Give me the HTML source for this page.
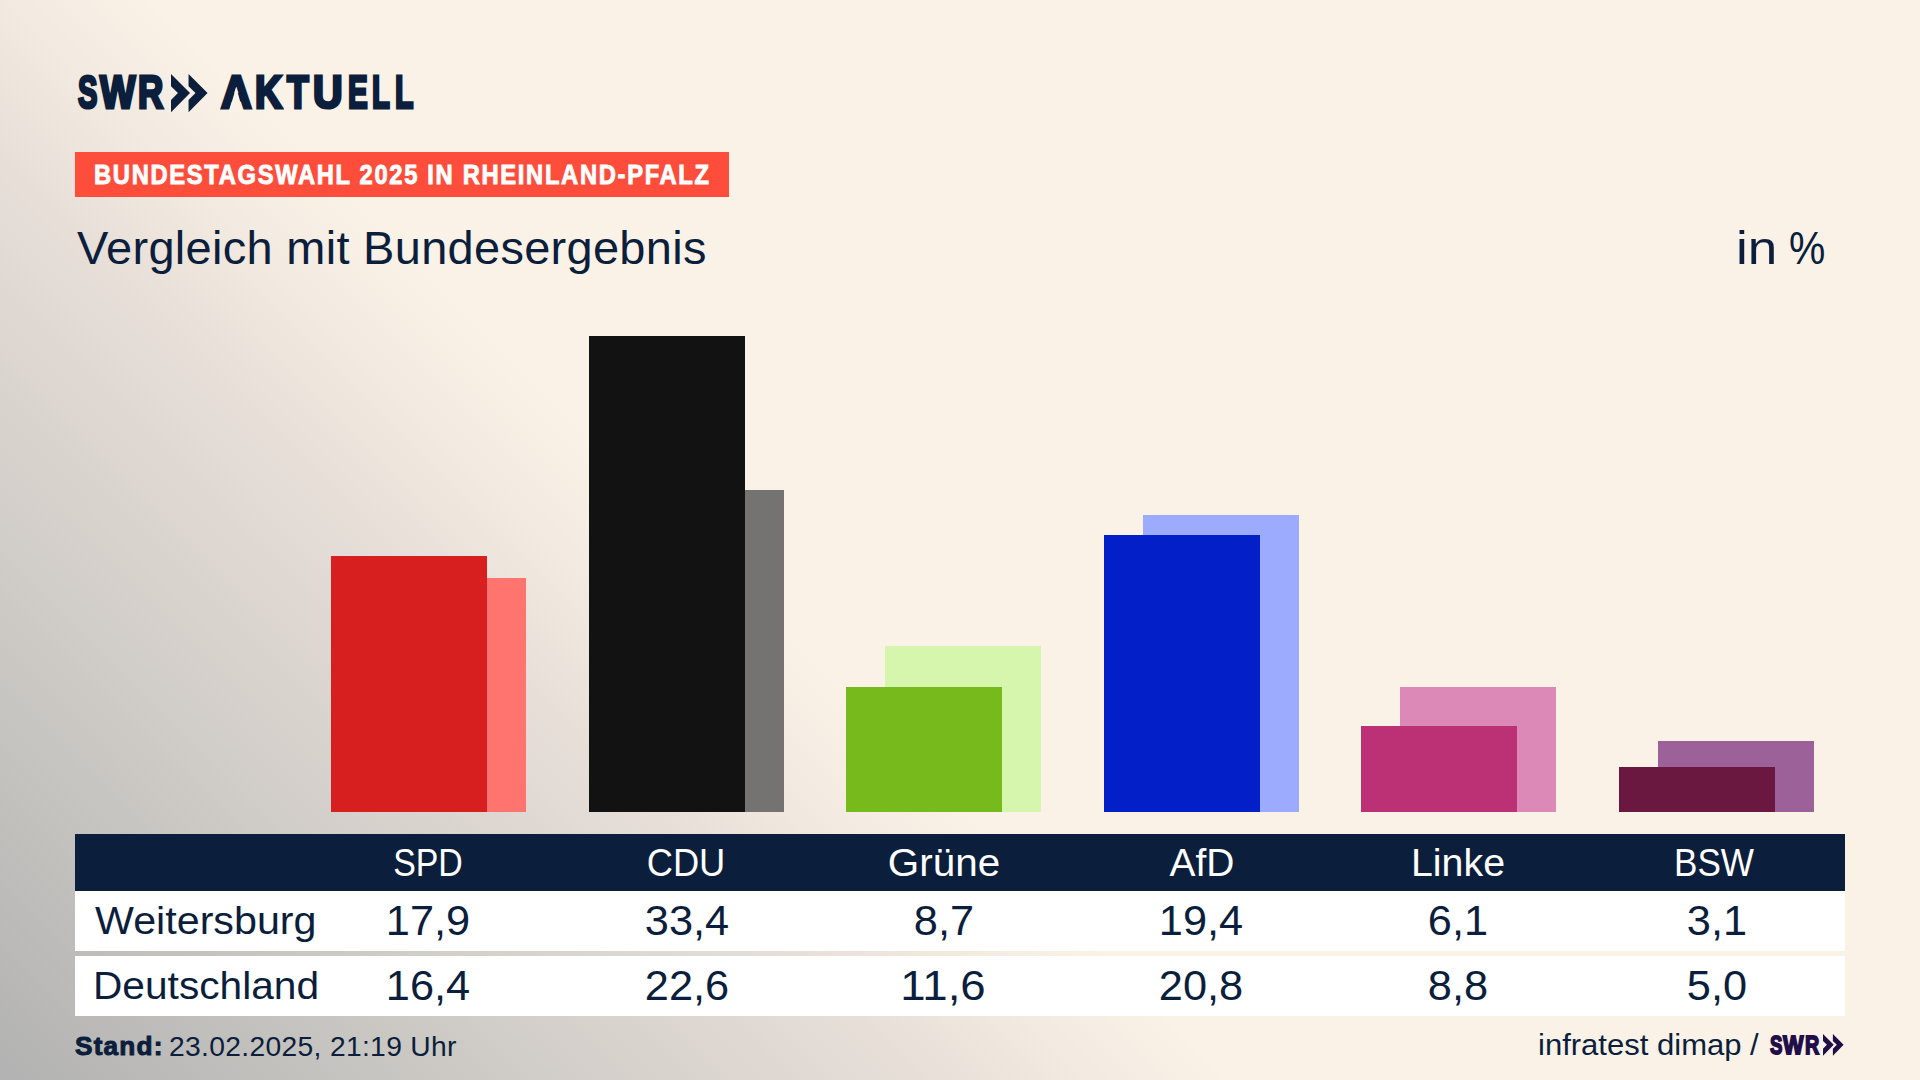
<!DOCTYPE html>
<html lang="de"><head><meta charset="utf-8"><title>Vergleich mit Bundesergebnis</title>
<style>
html,body{margin:0;padding:0}
body{width:1920px;height:1080px;overflow:hidden;position:relative;
 background:linear-gradient(45deg,#b2b2b2 0%,#cdcac5 16%,#e7ded8 30.5%,#f2e9e0 36%,#faf2e7 41%);
 font-family:"Liberation Sans",sans-serif;color:#0b1e3b}
.t{position:absolute;white-space:nowrap;line-height:1;display:block}
.l{transform-origin:0 0}
.c{transform-origin:50% 0;text-align:center}
.bar{position:absolute;width:156px}
.box{position:absolute}
b{font-weight:bold}
</style></head><body>

<div class="box" style="left:75px;top:152px;width:654px;height:45px;background:#fe4d3b"></div>
<div class="bar" style="left:370px;top:578px;height:234px;background:#ff746e"></div>
<div class="bar" style="left:331px;top:556px;height:256px;background:#d71f1f"></div>
<div class="bar" style="left:628px;top:490px;height:322px;background:#747371"></div>
<div class="bar" style="left:589px;top:336px;height:476px;background:#121212"></div>
<div class="bar" style="left:885px;top:646px;height:166px;background:#d6f5ad"></div>
<div class="bar" style="left:846px;top:687px;height:125px;background:#77ba1b"></div>
<div class="bar" style="left:1143px;top:515px;height:297px;background:#9cabfd"></div>
<div class="bar" style="left:1104px;top:535px;height:277px;background:#021fc8"></div>
<div class="bar" style="left:1400px;top:687px;height:125px;background:#dd89b7"></div>
<div class="bar" style="left:1361px;top:726px;height:86px;background:#bc3075"></div>
<div class="bar" style="left:1658px;top:741px;height:71px;background:#9b6198"></div>
<div class="bar" style="left:1619px;top:767px;height:45px;background:#6a1840"></div>
<div class="box" style="left:75px;top:834px;width:1770px;height:57px;background:#0b1e3b"></div>
<div class="box" style="left:75px;top:891px;width:1770px;height:60px;background:#fff"></div>
<div class="box" style="left:75px;top:956px;width:1770px;height:60px;background:#fff"></div>
<div id="swr" class="t" style="left:0;top:69.48px;font-size:46.8px;font-weight:bold;color:#0b1e3b;-webkit-text-stroke:3.2px #0b1e3b"><span style="position:absolute;left:78.44px;top:0;transform-origin:0 0;transform:scaleX(0.6225)">S</span><span style="position:absolute;left:99.98px;top:0;transform-origin:0 0;transform:scaleX(0.8012)">W</span><span style="position:absolute;left:138.41px;top:0;transform-origin:0 0;transform:scaleX(0.7474)">R</span></div>
<div id="akt" class="t" style="left:0;top:69.48px;font-size:46.8px;font-weight:bold;color:#0b1e3b;-webkit-text-stroke:3.2px #0b1e3b"><span style="position:absolute;left:220.89px;top:0;transform-origin:0 0;transform:scaleX(0.9046)">A</span><span style="position:absolute;left:254.84px;top:0;transform-origin:0 0;transform:scaleX(0.8021)">K</span><span style="position:absolute;left:287.22px;top:0;transform-origin:0 0;transform:scaleX(0.7598)">T</span><span style="position:absolute;left:312.88px;top:0;transform-origin:0 0;transform:scaleX(0.8752)">U</span><span style="position:absolute;left:347.56px;top:0;transform-origin:0 0;transform:scaleX(0.6313)">E</span><span style="position:absolute;left:372.17px;top:0;transform-origin:0 0;transform:scaleX(0.6236)">L</span><span style="position:absolute;left:395.05px;top:0;transform-origin:0 0;transform:scaleX(0.6450)">L</span></div>
<div id="badge" class="t l" style="left:94.03px;top:162.04px;font-size:27px;font-weight:bold;-webkit-text-stroke:0.9px #ffffff;color:#ffffff;letter-spacing:1.9px;transform:scaleX(0.8794)">BUNDESTAGSWAHL 2025 IN RHEINLAND-PFALZ</div>
<div id="title" class="t l" style="left:76.59px;top:225.14px;font-size:46.5px;font-weight:normal;color:#0b1e3b;letter-spacing:0.3px;transform:scaleX(1.0098)">Vergleich mit Bundesergebnis</div>
<div id="inp" class="t" style="left:0;top:225.14px;font-size:46.5px;font-weight:normal;color:#0b1e3b"><span style="position:absolute;left:1736.18px;top:0;transform-origin:0 0;transform:scaleX(1.1410)">in</span> <span style="position:absolute;left:1788.72px;top:0;transform-origin:0 0;transform:scaleX(0.8777)">%</span></div>
<div id="h0" class="t c" style="left:228.15px;width:400px;top:843.79px;font-size:38.4px;font-weight:normal;color:#ffffff;letter-spacing:0px;transform:scaleX(0.8829)">SPD</div>
<div id="h1" class="t c" style="left:485.50px;width:400px;top:843.79px;font-size:38.4px;font-weight:normal;color:#ffffff;letter-spacing:0px;transform:scaleX(0.9451)">CDU</div>
<div id="h2" class="t c" style="left:743.85px;width:400px;top:843.79px;font-size:38.4px;font-weight:normal;color:#ffffff;letter-spacing:0px;transform:scaleX(1.0525)">Grüne</div>
<div id="h3" class="t c" style="left:1002.00px;width:400px;top:843.79px;font-size:38.4px;font-weight:normal;color:#ffffff;letter-spacing:0px;transform:scaleX(1.0137)">AfD</div>
<div id="h4" class="t c" style="left:1258.35px;width:400px;top:843.79px;font-size:38.4px;font-weight:normal;color:#ffffff;letter-spacing:0px;transform:scaleX(1.0244)">Linke</div>
<div id="h5" class="t c" style="left:1514.20px;width:400px;top:843.79px;font-size:38.4px;font-weight:normal;color:#ffffff;letter-spacing:0px;transform:scaleX(0.915)">BSW</div>
<div id="r1" class="t l" style="left:95.00px;top:901.76px;font-size:38.8px;font-weight:normal;color:#0b1e3b;letter-spacing:0px;transform:scaleX(1.0626)">Weitersburg</div>
<div id="r2" class="t l" style="left:92.78px;top:966.76px;font-size:38.8px;font-weight:normal;color:#0b1e3b;letter-spacing:0px;transform:scaleX(1.0483)">Deutschland</div>
<div id="a0" class="t c" style="left:227.70px;width:400px;top:900.22px;font-size:42.5px;font-weight:normal;color:#0b1e3b;letter-spacing:0px;transform:scaleX(1.02)">17,9</div>
<div id="a1" class="t c" style="left:486.50px;width:400px;top:900.22px;font-size:42.5px;font-weight:normal;color:#0b1e3b;letter-spacing:0px;transform:scaleX(1.02)">33,4</div>
<div id="a2" class="t c" style="left:743.65px;width:400px;top:900.22px;font-size:42.5px;font-weight:normal;color:#0b1e3b;letter-spacing:0px;transform:scaleX(1.02)">8,7</div>
<div id="a3" class="t c" style="left:1000.80px;width:400px;top:900.22px;font-size:42.5px;font-weight:normal;color:#0b1e3b;letter-spacing:0px;transform:scaleX(1.02)">19,4</div>
<div id="a4" class="t c" style="left:1258.25px;width:400px;top:900.22px;font-size:42.5px;font-weight:normal;color:#0b1e3b;letter-spacing:0px;transform:scaleX(1.02)">6,1</div>
<div id="a5" class="t c" style="left:1517.15px;width:400px;top:900.22px;font-size:42.5px;font-weight:normal;color:#0b1e3b;letter-spacing:0px;transform:scaleX(1.02)">3,1</div>
<div id="b0" class="t c" style="left:227.70px;width:400px;top:965.22px;font-size:42.5px;font-weight:normal;color:#0b1e3b;letter-spacing:0px;transform:scaleX(1.02)">16,4</div>
<div id="b1" class="t c" style="left:486.65px;width:400px;top:965.22px;font-size:42.5px;font-weight:normal;color:#0b1e3b;letter-spacing:0px;transform:scaleX(1.02)">22,6</div>
<div id="b2" class="t c" style="left:742.70px;width:400px;top:965.22px;font-size:42.5px;font-weight:normal;color:#0b1e3b;letter-spacing:0px;transform:scaleX(1.0737)">11,6</div>
<div id="b3" class="t c" style="left:1000.80px;width:400px;top:965.22px;font-size:42.5px;font-weight:normal;color:#0b1e3b;letter-spacing:0px;transform:scaleX(1.02)">20,8</div>
<div id="b4" class="t c" style="left:1258.25px;width:400px;top:965.22px;font-size:42.5px;font-weight:normal;color:#0b1e3b;letter-spacing:0px;transform:scaleX(1.02)">8,8</div>
<div id="b5" class="t c" style="left:1517.30px;width:400px;top:965.22px;font-size:42.5px;font-weight:normal;color:#0b1e3b;letter-spacing:0px;transform:scaleX(1.02)">5,0</div>
<div id="stand" class="t l" style="left:75.36px;top:1033.45px;font-size:26.4px;font-weight:bold;-webkit-text-stroke:1.0px #0b1e3b;color:#0b1e3b;letter-spacing:1.2px;transform:scaleX(0.9923)">Stand:</div>
<div id="date" class="t l" style="left:168.97px;top:1032.99px;font-size:27.3px;font-weight:normal;color:#0b1e3b;letter-spacing:0.3px;transform:scaleX(1.0354)">23.02.2025, 21:19 Uhr</div>
<div id="infra" class="t l" style="left:1538.06px;top:1031.39px;font-size:28.6px;font-weight:normal;color:#0b1e3b;letter-spacing:0px;transform:scaleX(1.0851)">infratest dimap /</div>
<div id="swr2" class="t" style="left:0;top:1031.84px;font-size:26.3px;font-weight:bold;color:#1f0e48;-webkit-text-stroke:1.8px #1f0e48"><span style="position:absolute;left:1769.75px;top:0;transform-origin:0 0;transform:scaleX(0.7073)">S</span><span style="position:absolute;left:1782.74px;top:0;transform-origin:0 0;transform:scaleX(0.8263)">W</span><span style="position:absolute;left:1804.64px;top:0;transform-origin:0 0;transform:scaleX(0.7507)">R</span></div>
<svg style="position:absolute;left:0;top:0" width="300" height="130" viewBox="0 0 300 130"><polygon points="236.2,87.0 228.7,112.5 243.2,112.5" fill="#faf2e7"/></svg>
<svg class="chev" style="position:absolute;left:171.25px;top:73.6px;overflow:visible" width="36.55" height="38.15"><g fill="#0b1e3b"><polygon points="0.00,0.00 19.00,19.07 0.00,38.15 0.00,25.95 6.95,19.07 0.00,12.20"/><polygon points="17.55,0.00 36.55,19.07 17.55,38.15 17.55,25.95 24.50,19.07 17.55,12.20"/></g></svg>
<svg class="chev2" style="position:absolute;left:1823px;top:1034.2px;overflow:visible" width="20.60" height="21.70"><g fill="#1f0e48"><polygon points="0.00,0.00 10.71,10.85 0.00,21.70 0.00,14.76 3.92,10.85 0.00,6.94"/><polygon points="9.89,0.00 20.60,10.85 9.89,21.70 9.89,14.76 13.81,10.85 9.89,6.94"/></g></svg>
</body></html>
